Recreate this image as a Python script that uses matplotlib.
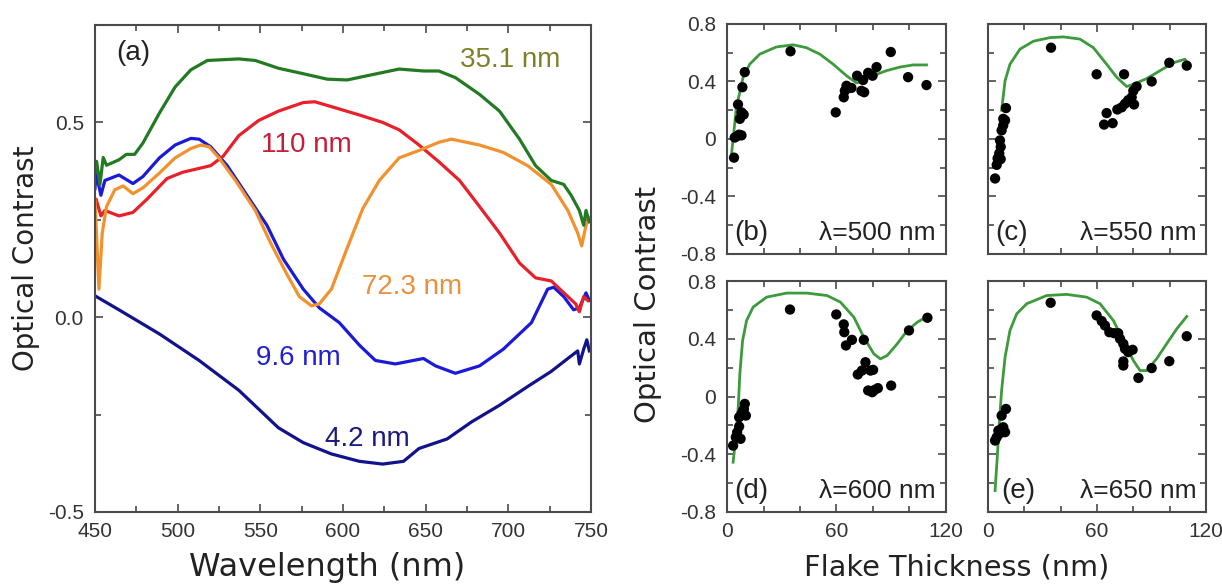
import matplotlib
matplotlib.use("Agg")
import matplotlib.pyplot as plt
from matplotlib.ticker import MultipleLocator

plt.rcParams['font.family'] = ['Liberation Sans', 'DejaVu Sans']

# ---------------- Panel (a) data: wavelength (nm) vs optical contrast ----------------
wl_351 = [450, 451, 453, 455, 457, 464.5, 469, 474, 479, 489, 498.5, 508, 518, 537, 547, 561, 576, 590.5,
          602.6, 614.8, 634, 648.7, 658, 668, 682.6, 694.7, 706.8, 716.5, 726, 733.5, 738, 743, 745.6, 747, 749]
c_351 = [0.37, 0.40, 0.34, 0.41, 0.39, 0.404, 0.418, 0.418, 0.447, 0.524, 0.591, 0.635, 0.659, 0.663, 0.659,
         0.639, 0.625, 0.611, 0.609, 0.620, 0.637, 0.632, 0.632, 0.615, 0.572, 0.529, 0.457, 0.389, 0.351,
         0.341, 0.313, 0.274, 0.236, 0.274, 0.245]

wl_110 = [450, 450.7, 453.6, 456, 464.5, 473, 481.5, 493.6, 503, 513, 520, 527.5, 537, 549, 561, 576, 583,
          595, 610, 624, 634, 646, 658, 670.5, 682.6, 694.7, 706.8, 716.5, 726, 736, 740.8, 743, 745.6, 748]
c_110 = [0.29, 0.303, 0.26, 0.274, 0.26, 0.269, 0.303, 0.356, 0.372, 0.382, 0.389, 0.413, 0.466, 0.505, 0.529,
         0.551, 0.553, 0.538, 0.519, 0.50, 0.481, 0.442, 0.399, 0.351, 0.284, 0.216, 0.139, 0.101, 0.093,
         0.053, 0.034, 0.014, 0.053, 0.043]

wl_723 = [450, 450.7, 452.4, 454.4, 457, 462, 467, 473, 479, 489, 498.5, 508, 514, 519, 525, 535, 547, 556.6,
          566, 573.6, 581, 585.7, 593, 602.6, 612, 622, 634, 646, 658, 665.6, 682.6, 697, 711.7, 726, 736,
          742, 744.4, 747, 749]
c_723 = [0.30, 0.236, 0.072, 0.216, 0.284, 0.327, 0.337, 0.317, 0.332, 0.370, 0.409, 0.433, 0.442, 0.4375,
         0.409, 0.351, 0.274, 0.1875, 0.111, 0.053, 0.029, 0.034, 0.072, 0.178, 0.279, 0.351, 0.409, 0.428,
         0.449, 0.457, 0.442, 0.423, 0.389, 0.341, 0.274, 0.216, 0.183, 0.236, 0.255]

wl_96 = [450, 450.7, 453.6, 456, 464.5, 473, 479, 489, 498.5, 508, 513, 520, 530, 542, 554, 564, 576, 585.7,
         597.8, 610, 619.6, 631.7, 648.7, 656, 668, 682.6, 697, 714, 723.8, 727.4, 733.5, 739.5, 743, 747, 749]
c_96 = [0.33, 0.37, 0.313, 0.351, 0.365, 0.343, 0.361, 0.409, 0.442, 0.459, 0.457, 0.4375, 0.389, 0.3125,
        0.236, 0.149, 0.072, 0.024, -0.014, -0.072, -0.111, -0.12, -0.106, -0.125, -0.144, -0.125, -0.082,
        -0.014, 0.072, 0.077, 0.053, 0.019, 0.024, 0.0625, 0.043]

wl_42 = [450, 464.5, 489, 513, 537, 561, 576, 593, 610, 624, 636.6, 646, 663, 677.7, 694.7, 711.7, 726, 736,
         742, 743, 745.6, 747.5, 749]
c_42 = [0.055, 0.019, -0.043, -0.111, -0.1875, -0.284, -0.322, -0.351, -0.37, -0.377, -0.37, -0.337, -0.3125,
        -0.269, -0.226, -0.178, -0.139, -0.106, -0.0865, -0.12, -0.082, -0.058, -0.0865]

# ---------------- Panels (b)-(e): flake thickness (nm) vs optical contrast ----------------
b_t = [3.8, 4.2, 5.5, 6.6, 7.9, 6.0, 7.0, 7.9, 9.1, 8.4, 9.7, 34.8, 59.6, 64, 64.6, 65.5, 68.2, 71.3, 73.7,
       75.2, 74.6, 77.4, 79.8, 82, 89.8, 99.3, 109.4]
b_c = [-0.13, 0.01, 0.02, 0.03, 0.025, 0.24, 0.14, 0.185, 0.17, 0.36, 0.465, 0.61, 0.185, 0.29, 0.335, 0.37,
       0.355, 0.44, 0.335, 0.325, 0.41, 0.46, 0.44, 0.50, 0.605, 0.43, 0.375]
b_fit_t = [2.4, 5.1, 8.8, 12.4, 17.9, 27, 36.2, 43.5, 50.9, 58.2, 65.5, 71, 74.6, 80, 87.4, 94.8, 102, 109.4]
b_fit_c = [-0.11, 0.22, 0.43, 0.52, 0.59, 0.64, 0.655, 0.635, 0.59, 0.52, 0.44, 0.39, 0.405, 0.44, 0.475,
           0.50, 0.515, 0.515]

c_t = [3.9, 4.8, 5.3, 6.2, 7.0, 6.6, 7.5, 8.4, 9.4, 8.4, 9.9, 7.0, 34.7, 59.8, 63.9, 65.3, 68.6, 71.2, 73.6,
       74.9, 75.4, 77.2, 79.1, 80.4, 80, 81.8, 90.1, 99.8, 109.4]
c_c = [-0.275, -0.18, -0.135, -0.10, -0.055, -0.01, 0.06, 0.095, 0.13, 0.14, 0.215, -0.14, 0.635, 0.45, 0.10,
       0.18, 0.11, 0.205, 0.22, 0.45, 0.245, 0.27, 0.29, 0.24, 0.335, 0.365, 0.40, 0.53, 0.51]
c_fit_t = [7.5, 9.4, 12.1, 17.6, 25, 34.1, 41.5, 50.6, 58, 65.3, 70.8, 76.3, 80, 87.3, 94.7, 102, 108.4, 109.7]
c_fit_c = [0.20, 0.405, 0.52, 0.625, 0.68, 0.705, 0.71, 0.695, 0.635, 0.52, 0.43, 0.365, 0.38, 0.42, 0.475,
           0.53, 0.555, 0.53]

d_t = [3.3, 4.8, 5.5, 6.6, 7.4, 6.6, 7.9, 8.8, 9.7, 10.3, 9.2, 34.5, 59.9, 64, 64.3, 65.2, 68.5, 75, 71.7, 74,
       75.9, 78.7, 80.1, 77.4, 79.6, 80.9, 82.7, 90, 99.8, 109.9]
d_c = [-0.34, -0.282, -0.248, -0.208, -0.293, -0.143, -0.12, -0.097, -0.051, -0.132, -0.086, 0.603, 0.569,
       0.50, 0.446, 0.354, 0.393, 0.393, 0.153, 0.18, 0.238, 0.18, 0.185, 0.042, 0.03, 0.046, 0.058, 0.076,
       0.458, 0.546]
d_fit_t = [3.3, 4.8, 6.1, 7, 8.5, 10.7, 14.3, 21.7, 32.7, 43.7, 54.8, 62.1, 69.5, 75, 80.5, 84.1, 87.8, 93.3,
           98.9, 104.4, 109.9]
d_fit_c = [-0.455, -0.282, -0.074, 0.157, 0.388, 0.527, 0.62, 0.689, 0.717, 0.717, 0.70, 0.655, 0.551, 0.411,
           0.296, 0.261, 0.284, 0.365, 0.458, 0.516, 0.555]

e_t = [3.9, 4.8, 5.7, 6.6, 7.5, 9.4, 8.4, 7.5, 9.9, 34.5, 59.8, 62.6, 64.4, 66.8, 69.4, 71.7, 72.7, 74.5, 75.4,
       77.2, 79.6, 74.5, 74.5, 82.8, 90.1, 99.8, 109.4]
e_c = [-0.305, -0.282, -0.236, -0.254, -0.224, -0.247, -0.213, -0.132, -0.086, 0.65, 0.562, 0.523, 0.492,
       0.446, 0.439, 0.439, 0.40, 0.365, 0.331, 0.308, 0.324, 0.243, 0.215, 0.129, 0.197, 0.245, 0.418]
e_fit_t = [3.9, 5.1, 6.2, 7.5, 9.4, 12.1, 15.8, 21.3, 32.3, 43.3, 54.3, 61.7, 69, 74.5, 80, 83.7, 87.3, 92.8,
           98.3, 103.9, 109.4]
e_fit_c = [-0.652, -0.421, -0.19, 0.042, 0.273, 0.458, 0.573, 0.643, 0.70, 0.708, 0.689, 0.643, 0.527, 0.388,
           0.25, 0.18, 0.18, 0.261, 0.365, 0.469, 0.555]

panel_letters = ['(b)', '(c)', '(d)', '(e)']
panel_lambdas = ['λ=500 nm', 'λ=550 nm', 'λ=600 nm', 'λ=650 nm']

# ---------------- Figure ----------------
fig = plt.figure(figsize=(12.22, 5.86), dpi=100)
tick_col = '#333333'
spine_col = '#4a4a4a'
text_col = '#222222'

def style_axes(ax):
    for s in ax.spines.values():
        s.set_color(spine_col)
        s.set_linewidth(1.5)
    ax.tick_params(which='both', direction='in', top=True, right=True, colors=spine_col,
                   labelcolor=tick_col, labelsize=15, width=1.2)
    ax.tick_params(which='major', length=6)
    ax.tick_params(which='minor', length=4)
    ax.tick_params(axis='y', which='both', pad=8)
    ax.tick_params(axis='x', which='both', pad=7)

# Panel (a)
axa = fig.add_axes([0.0777, 0.1263, 0.4059, 0.831])
axa.plot(wl_42, c_42, color='#12128a', lw=2.3)
axa.plot(wl_96, c_96, color='#1a1ad8', lw=2.3)
axa.plot(wl_110, c_110, color='#e8202a', lw=2.3)
axa.plot(wl_723, c_723, color='#f0922e', lw=2.3)
axa.plot(wl_351, c_351, color='#237a23', lw=2.3)
axa.set_xlim(450, 750)
axa.set_ylim(-0.5, 0.75)
axa.xaxis.set_major_locator(MultipleLocator(50))
axa.xaxis.set_minor_locator(MultipleLocator(25))
axa.yaxis.set_minor_locator(MultipleLocator(0.25))
axa.set_yticks([-0.5, 0.0, 0.5])
axa.set_yticklabels(['-0.5', '0.0', '0.5'])
style_axes(axa)
fs_lab = 20
axa.text(463, 0.678, '(a)', fontsize=fs_lab, color=text_col, va='center', ha='left')
axa.text(701, 0.659, '35.1 nm', fontsize=fs_lab, color='#80802a', va='center', ha='center')
axa.text(578, 0.442, '110 nm', fontsize=fs_lab, color='#c41e3a', va='center', ha='center')
axa.text(642, 0.077, '72.3 nm', fontsize=fs_lab, color='#e8903c', va='center', ha='center')
axa.text(573, -0.106, '9.6 nm', fontsize=fs_lab, color='#2020d0', va='center', ha='center')
axa.text(615, -0.3125, '4.2 nm', fontsize=fs_lab, color='#1a1a80', va='center', ha='center')

# Panels (b)-(e)
positions = [
    [0.595, 0.5666, 0.179, 0.3925],
    [0.8085, 0.5666, 0.1784, 0.3925],
    [0.595, 0.1263, 0.179, 0.394],
    [0.8085, 0.1263, 0.1784, 0.394],
]
datasets = [
    (b_t, b_c, b_fit_t, b_fit_c),
    (c_t, c_c, c_fit_t, c_fit_c),
    (d_t, d_c, d_fit_t, d_fit_c),
    (e_t, e_c, e_fit_t, e_fit_c),
]
letter_x = [0.035, 0.035, 0.035, 0.06]
for i, (pos, (t, c, ft, fc)) in enumerate(zip(positions, datasets)):
    ax = fig.add_axes(pos)
    ax.plot(ft, fc, color='#3d9a3d', lw=2.0, zorder=2)
    ax.scatter(t, c, s=55, color='black', zorder=3, edgecolors='none')
    ax.set_xlim(0, 120)
    ax.set_ylim(-0.8, 0.8)
    ax.xaxis.set_major_locator(MultipleLocator(60))
    ax.xaxis.set_minor_locator(MultipleLocator(20))
    ax.yaxis.set_minor_locator(MultipleLocator(0.2))
    ax.set_yticks([-0.8, -0.4, 0, 0.4, 0.8])
    ax.set_yticklabels(['-0.8', '-0.4', '0', '0.4', '0.8'])
    style_axes(ax)
    if i % 2 == 1:
        ax.tick_params(labelleft=False)
    if i < 2:
        ax.tick_params(labelbottom=False)
    ax.text(letter_x[i], 0.06, panel_letters[i], transform=ax.transAxes, fontsize=20, color=text_col,
            ha='left', va='baseline')
    ax.text(0.955, 0.06, panel_lambdas[i], transform=ax.transAxes, fontsize=19, color=text_col,
            ha='right', va='baseline')

fig.text(0.021, 0.56, 'Optical Contrast', rotation=90, fontsize=20, color=text_col,
         ha='center', va='center', family='DejaVu Sans')
fig.text(0.530, 0.48, 'Optical Contrast', rotation=90, fontsize=21, color=text_col,
         ha='center', va='center', family='DejaVu Sans')
fig.text(0.268, 0.032, 'Wavelength (nm)', fontsize=23, color=text_col, ha='center', va='center',
         family='DejaVu Sans')
fig.text(0.783, 0.032, 'Flake Thickness (nm)', fontsize=20.7, color=text_col, ha='center', va='center',
         family='DejaVu Sans')

fig.savefig('out.png', dpi=100)
